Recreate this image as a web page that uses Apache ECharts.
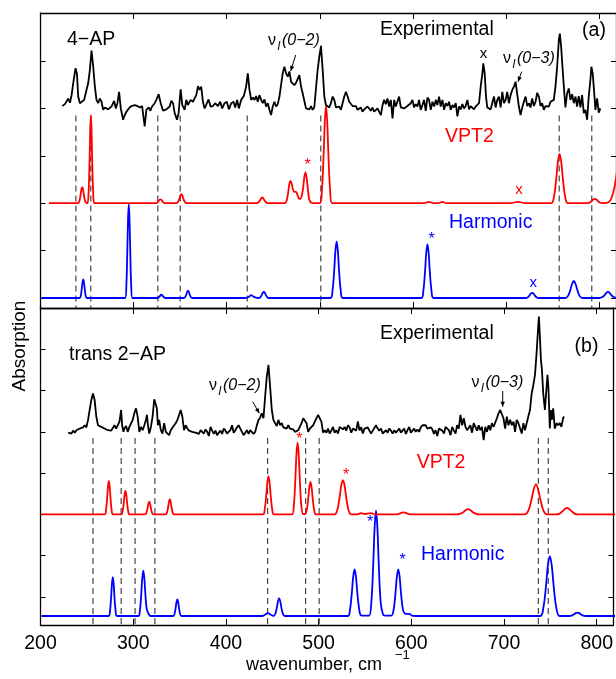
<!DOCTYPE html>
<html>
<head>
<meta charset="utf-8">
<script src="https://cdn.jsdelivr.net/npm/echarts@6/dist/echarts.min.js"></script>
<style>html,body{margin:0;padding:0;background:#fff;}#c{width:616px;height:679px;}</style>
</head>
<body>
<div id="c"></div>
<script>
// ---------- axes ----------
const xMin = 200, xMax = 818, xInterval = 100;
const yTicksA = [0, 1, 2, 3, 4, 5, 6];
const yTicksB = [0, 1, 2, 3, 4, 5, 6, 7];
const yRangeA = [-0.211, 6.013];
const yRangeB = [-0.678, 7.0];

// ---------- panel (a): 4-AP ----------
const expA = [
[223.4,4.05],[226.2,4.09],[228.0,4.05],[229.8,4.21],[231.6,4.12],[233.4,4.28],[235.1,4.53],[237.6,4.85],[239.1,4.74],[240.5,4.25],
[242.3,4.11],[244.1,4.11],[246.9,4.18],[249.4,4.39],[251.2,4.53],[253.0,4.81],[254.8,5.22],[256.6,4.88],[258.4,4.46],[260.1,4.18],
[261.9,4.11],[263.7,4.21],[265.5,4.14],[267.3,3.97],[269.1,4.02],[272.6,3.98],[276.2,4.04],[279.1,4.16],[280.8,4.00],[282.6,4.11],
[284.4,4.35],[286.2,4.00],[288.7,3.76],[290.5,3.86],[292.3,3.93],[294.8,4.00],[297.6,4.05],[301.2,4.07],[304.1,4.05],[306.6,4.02],
[309.1,4.05],[311.9,3.62],[313.7,3.97],[316.2,4.02],[318.0,3.95],[319.8,4.04],[322.6,4.11],[324.4,4.18],[326.9,4.30],[329.1,4.11],
[331.6,3.95],[335.1,3.98],[338.7,4.04],[340.5,4.16],[342.3,4.11],[344.1,3.90],[346.6,3.76],[348.3,3.90],[350.5,4.40],[352.3,4.07],
[354.8,3.97],[356.6,4.18],[358.3,4.07],[361.2,4.18],[363.7,4.14],[365.5,4.21],[367.3,4.28],[369.1,4.47],[370.8,4.39],[372.6,4.46],
[374.4,4.14],[376.2,4.00],[378.7,4.11],[380.5,4.19],[382.6,4.04],[385.1,4.05],[387.6,4.11],[390.5,4.05],[393.0,4.14],[395.1,4.00],
[397.6,4.11],[400.1,4.14],[402.3,3.98],[404.8,4.11],[407.3,4.14],[409.1,4.02],[411.2,4.18],[413.0,4.00],[415.5,4.18],[418.3,4.26],
[419.1,4.25],[420.8,4.46],[422.6,4.74],[424.4,4.39],[426.2,4.18],[428.0,4.23],[429.8,4.18],[431.6,4.26],[433.3,4.14],[435.1,4.28],
[436.9,4.18],[438.7,4.11],[440.5,4.19],[442.3,4.04],[444.1,4.11],[445.8,3.97],[447.6,3.86],[449.4,4.04],[451.2,4.14],[453.0,4.04],
[454.8,4.09],[456.6,4.25],[458.3,4.49],[460.1,4.74],[461.9,4.88],[463.7,4.74],[465.5,4.67],[467.3,4.78],[469.1,4.56],[470.8,4.53],
[472.6,4.49],[474.4,4.54],[476.2,4.53],[478.0,4.70],[479.8,4.46],[481.5,4.32],[483.3,4.35],[485.1,4.00],[486.9,4.04],[488.7,3.98],
[490.5,4.05],[492.3,3.97],[494.0,4.02],[495.8,3.98],[497.6,4.81],[499.4,5.09],[501.2,5.32],[503.0,4.81],[504.8,4.25],[506.5,4.07],
[508.3,4.07],[510.1,4.02],[511.9,4.11],[513.7,4.25],[515.5,4.18],[517.3,4.02],[519.0,3.98],[520.8,4.04],[522.6,3.97],[524.4,4.11],
[526.2,4.25],[528.0,4.35],[529.8,4.25],[531.5,4.14],[533.3,4.11],[535.1,4.05],[536.9,4.02],[538.7,4.05],[540.5,3.97],[542.3,4.00],
[544.0,4.02],[545.8,3.93],[547.6,3.98],[549.4,3.97],[551.2,4.04],[553.0,4.00],[554.8,3.95],[556.5,4.02],[558.3,3.93],[560.1,3.90],
[561.9,4.00],[563.7,4.04],[565.5,3.86],[567.3,4.07],[569.0,4.18],[570.8,4.09],[572.6,4.21],[574.4,4.04],[576.2,4.18],[578.0,3.79],
[579.8,4.18],[581.5,4.04],[583.3,4.02],[585.1,4.25],[586.9,4.02],[588.7,4.05],[590.5,4.00],[592.3,3.97],[594.0,4.05],[595.8,4.02],
[597.6,4.11],[599.4,4.18],[601.2,4.02],[603.0,4.09],[604.8,4.04],[606.5,4.18],[608.3,3.97],[610.1,4.07],[611.9,4.18],[613.7,3.95],
[615.5,4.23],[617.3,4.18],[619.1,3.97],[620.9,4.14],[622.7,4.04],[624.5,4.18],[626.2,4.07],[628.0,4.25],[629.8,4.04],[631.6,4.18],
[633.4,3.97],[635.2,4.11],[637.0,4.05],[638.7,4.14],[640.5,3.97],[642.3,4.07],[644.1,4.02],[645.9,4.11],[647.7,3.83],[649.5,4.04],
[651.2,3.98],[653.0,4.09],[654.8,4.00],[656.6,4.05],[658.4,4.18],[660.2,3.98],[662.0,4.05],[663.7,4.02],[665.5,3.98],[667.3,4.04],
[669.1,4.02],[670.9,4.11],[672.7,4.46],[674.5,4.74],[675.5,4.95],[677.0,4.74],[678.4,4.25],[679.8,4.02],[681.6,4.05],[683.4,3.98],
[685.2,4.12],[687.0,4.25],[688.7,4.02],[690.5,4.18],[692.3,4.25],[694.1,4.02],[695.9,4.35],[697.7,4.11],[699.5,4.18],[701.2,4.35],
[703.0,4.11],[704.8,4.28],[706.6,4.39],[708.4,4.46],[710.2,4.56],[712.0,4.52],[713.7,4.04],[715.5,3.86],[717.3,4.02],[719.1,4.14],
[720.9,4.25],[722.7,4.05],[724.5,4.11],[726.2,4.02],[728.0,4.21],[729.8,4.05],[731.6,4.14],[733.4,4.33],[735.2,4.25],[737.0,4.05],
[738.7,4.11],[740.5,3.97],[742.3,4.05],[744.1,4.02],[745.9,4.04],[747.7,4.14],[749.5,4.14],[751.2,4.18],[753.0,4.46],[754.8,4.88],
[756.6,5.44],[757.7,5.58],[759.1,5.30],[760.5,4.88],[762.0,4.46],[763.7,4.02],[765.5,4.32],[767.3,4.42],[769.1,4.18],[770.9,4.30],
[772.7,4.11],[774.5,4.25],[776.2,4.04],[778.0,4.26],[779.8,4.02],[781.6,4.28],[783.4,3.90],[785.2,3.97],[787.0,3.76],[788.7,4.25],
[790.5,4.60],[791.6,4.88],[793.0,4.74],[794.1,4.46],[795.9,3.97],[797.7,4.21],[799.5,3.91],[801.2,4.00]
];
const vpt2A = [
[209,2],[240.3,2],[241.8,2.05],[243,2.17],[243.9,2.29],[244.8,2.34],[245.7,2.29],[246.6,2.17],[247.8,2.05],[249.3,2],
[250.5,2],[251.7,2.25],[252.7,2.91],[253.4,3.56],[254.1,3.86],[254.8,3.56],[255.5,2.91],[256.5,2.25],[257.7,2],
[323.4,2],[325.2,2.01],[326.6,2.04],[327.7,2.07],[328.8,2.08],[329.9,2.07],[331,2.04],[332.4,2.01],[334.2,2],
[345.9,2],[347.7,2.03],[349.1,2.09],[350.2,2.16],[351.3,2.19],[352.4,2.16],[353.5,2.09],[354.9,2.03],[356.7,2],
[432.1,2],[434.1,2.02],[435.7,2.06],[436.9,2.1],[438.1,2.12],[439.3,2.1],[440.5,2.06],[442.1,2.02],[444.1,2],
[462.4,2],[464.4,2.06],[466,2.23],[467.2,2.4],[468.4,2.47],[469.6,2.42],[471,2.3],[472.5,2.24],[474.5,2.24],[476,2.17],
[477.5,2.1],[479,2.09],[480.5,2.15],[482,2.32],[483.3,2.55],[484.5,2.65],[485.7,2.55],[487,2.32],[488.5,2.09],[490.5,2.01],[492.5,2],
[500,2],[502.2,2.28],[504,3.0],[505.3,3.72],[506.6,4.05],[507.9,3.72],[509.2,3.0],[511,2.28],[513.2,2],
[612,2],[617,2.03],[622,2],[627,2],[631.6,2.03],[636,2],[705,2],[712.7,2.03],[720,2],
[748.4,2],[751.4,2.14],[753.8,2.51],[755.6,2.87],[757.4,3.04],[759.2,2.87],[761,2.51],[763.4,2.14],[766.4,2],
[786,2],[789.2,2.01],[791.6,2.04],[793.4,2.08],[795.2,2.09],[797,2.08],[798.8,2.04],[801.2,2.01],[804,2],
[810,2.02],[813,2.1],[816.5,2.35],[820,2.8]
];
const harmA = [
[201,0],[242,0],[243.3,0.05],[244.3,0.19],[245.1,0.33],[245.9,0.39],[246.7,0.33],[247.5,0.19],[248.5,0.05],[249.8,0],
[290.9,0],[292.2,0.27],[293.2,0.97],[294,1.66],[294.8,1.98],[295.6,1.66],[296.4,0.97],[297.4,0.27],[298.7,0],
[325.3,0],[327.8,0.03],[329.8,0.07],[331.8,0.03],[334.3,0],
[353.9,0],[355.4,0.02],[356.6,0.07],[357.5,0.13],[358.4,0.15],[359.3,0.13],[360.2,0.07],[361.4,0.02],[362.9,0],
[420,0],[424,0.03],[426.3,0.06],[428.6,0.03],[431.5,0.01],[434.4,0],[436.2,0.02],[437.6,0.06],[438.7,0.11],[439.8,0.13],[440.9,0.11],[442,0.06],[443.4,0.02],[445.2,0],
[511.4,0],[513.6,0.16],[515.4,0.58],[516.7,1.0],[518,1.19],[519.3,1.0],[520.6,0.58],[522.4,0.16],[524.6,0],
[608.9,0],[611.1,0.15],[612.9,0.55],[614.2,0.95],[615.5,1.13],[616.8,0.95],[618.1,0.55],[619.9,0.15],[622.1,0],
[720.5,0],[723,0.01],[725,0.05],[726.5,0.09],[728,0.11],[729.5,0.09],[731,0.05],[733,0.01],[735.5,0],
[763.7,0],[766.7,0.05],[769.1,0.18],[770.9,0.3],[772.7,0.36],[774.5,0.3],[776.3,0.18],[778.7,0.05],[781.7,0],
[800.4,0],[803.4,0.02],[805.8,0.06],[807.6,0.11],[809.4,0.13],[811.2,0.11],[813,0.06],[815.4,0.02],[818.4,0]
];
const dashA = [238, 254, 326, 350, 422, 501, 757, 792];

// ---------- panel (b): trans 2-AP ----------
const expB = [
[229.8,3.98],[231.6,4.00],[233.4,3.96],[235.2,4.03],[237.0,3.98],[238.8,4.04],[240.5,4.00],[242.3,4.08],[244.1,4.12],[245.9,4.11],
[247.7,4.16],[249.5,4.11],[251.3,4.29],[253.0,4.53],[254.8,4.77],[256.6,4.93],[258.4,4.77],[260.2,4.37],[262.0,4.16],[263.8,4.14],
[265.5,4.12],[267.3,4.11],[269.1,4.08],[270.9,4.08],[272.7,4.04],[274.5,4.08],[276.3,4.03],[278.0,4.00],[279.8,4.16],[281.6,4.08],
[283.4,4.04],[285.2,4.25],[287.0,4.53],[288.0,4.16],[289.5,4.00],[290.5,4.08],[292.3,4.14],[294.1,4.00],[295.9,4.12],[297.7,4.16],
[299.5,4.29],[301.2,4.45],[303.0,4.57],[304.8,4.37],[306.6,4.00],[308.4,4.12],[310.2,4.04],[312.0,4.16],[313.7,4.29],[314.8,4.41],
[315.9,4.16],[317.3,3.96],[319.1,4.12],[320.9,4.37],[322.7,4.79],[324.5,4.65],[325.5,4.57],[326.6,4.16],[328.0,4.29],[329.8,4.04],
[331.6,3.96],[333.4,4.21],[335.2,4.00],[337.0,4.04],[338.7,3.92],[340.5,4.04],[342.3,4.00],[344.1,4.16],[345.9,4.21],[347.7,4.29],
[349.5,4.41],[351.2,4.53],[353.0,4.37],[354.8,4.04],[356.6,4.16],[358.4,4.08],[360.2,4.03],[362.0,4.04],[363.7,4.00],[367.3,3.98],
[370.9,3.95],[372.7,4.04],[374.5,4.03],[376.2,3.96],[378.0,4.06],[379.8,4.00],[381.6,3.90],[383.4,4.12],[385.2,4.03],[387.0,3.95],
[388.7,4.03],[390.5,3.92],[392.3,3.98],[394.1,4.03],[395.9,3.95],[397.7,4.08],[399.5,4.03],[401.2,3.96],[403.0,3.98],[404.8,4.04],
[406.6,4.16],[408.4,3.98],[410.2,4.04],[412.0,4.11],[413.7,4.16],[415.5,4.08],[417.3,4.04],[419.1,3.92],[420.9,3.98],[422.7,4.04],
[424.5,3.95],[426.2,4.04],[428.0,4.03],[429.8,3.95],[431.6,4.00],[433.4,4.16],[435.2,4.29],[437.0,4.35],[438.7,4.45],[440.5,4.33],
[442.3,4.85],[444.1,5.34],[445.9,5.62],[447.7,5.09],[449.5,4.53],[451.2,4.29],[453.0,4.30],[454.8,4.14],[456.6,4.29],[458.4,4.16],
[460.2,4.21],[462.0,4.11],[463.7,4.14],[465.5,4.08],[467.3,4.16],[469.1,4.08],[470.9,4.04],[472.7,4.06],[474.5,4.00],[476.2,3.98],
[478.0,4.04],[479.8,4.08],[481.6,4.21],[483.4,4.33],[485.2,4.37],[487.0,4.21],[488.7,4.00],[490.5,4.08],[492.3,4.04],[494.1,4.16],
[495.9,4.25],[497.7,4.33],[499.5,4.41],[501.2,4.37],[503.0,4.25],[504.8,3.98],[506.6,4.04],[508.4,3.98],[510.2,4.08],[511.9,3.96],
[513.7,4.03],[515.5,4.12],[517.3,3.98],[519.1,4.04],[520.9,3.96],[522.7,4.12],[524.4,4.16],[526.2,4.06],[528.0,4.12],[529.8,4.03],
[531.6,4.16],[533.4,4.11],[535.2,3.98],[537.0,4.08],[538.7,4.12],[540.5,4.03],[542.3,4.25],[544.1,4.04],[545.9,4.11],[547.7,3.96],
[549.5,4.08],[551.2,4.04],[553.0,4.11],[554.8,4.03],[556.6,3.96],[558.4,4.03],[560.2,4.04],[561.9,4.16],[563.7,4.08],[565.5,4.03],
[567.3,4.08],[569.1,3.96],[570.9,4.00],[572.7,4.04],[574.4,3.98],[576.2,4.08],[578.0,4.03],[579.8,3.96],[581.6,4.04],[583.4,3.98],
[585.2,3.95],[587.0,4.08],[588.7,3.98],[590.5,4.03],[592.3,4.08],[594.1,3.95],[595.9,4.04],[597.7,4.12],[599.5,3.98],[601.2,4.03],
[603.0,4.08],[604.8,4.00],[606.6,4.06],[608.4,4.00],[610.2,4.11],[612.0,4.16],[613.7,4.12],[615.5,4.16],[617.3,4.08],[619.1,4.04],
[620.9,4.11],[622.7,4.06],[624.4,3.95],[626.2,4.04],[628.0,3.90],[629.8,4.08],[631.6,4.12],[633.4,4.03],[635.2,3.96],[636.9,4.12],
[638.7,4.08],[640.5,4.04],[642.3,3.92],[644.1,4.12],[645.9,4.03],[647.7,3.96],[649.4,4.16],[651.2,4.08],[653.0,4.41],[654.8,4.16],
[656.6,4.33],[658.4,4.12],[660.2,4.04],[661.9,4.08],[663.7,4.16],[665.5,3.98],[667.3,4.21],[669.1,4.12],[670.9,4.03],[672.7,4.16],
[674.4,4.04],[676.2,4.12],[678.0,3.80],[679.8,4.12],[681.6,4.00],[683.4,4.16],[685.2,4.04],[686.9,4.21],[688.7,4.12],[690.5,4.08],
[692.3,4.33],[694.1,4.45],[695.9,4.53],[697.7,4.49],[699.4,4.33],[701.2,4.08],[703.0,4.37],[704.8,4.16],[706.6,4.29],[708.4,4.16],
[710.2,4.25],[711.9,4.00],[713.7,4.29],[715.5,4.21],[717.3,4.25],[719.1,3.96],[720.9,4.21],[722.6,4.04],[724.4,4.21],[726.2,4.37],
[728.0,4.53],[729.8,4.93],[731.6,5.13],[733.4,5.38],[735.1,5.90],[736.6,6.46],[737.6,6.79],[738.7,6.30],[739.8,5.74],[740.9,5.50],
[742.3,4.93],[744.1,4.53],[745.9,5.09],[746.9,5.38],[748.0,5.01],[749.4,4.08],[750.5,4.53],[751.6,4.29],[753.0,4.57],[754.8,4.08],
[756.6,4.21],[758.4,4.16],[760.2,4.21],[761.9,4.12],[763.7,4.33],[764.8,4.37]
];
const vpt2B = [
[201,2],[269.2,2],[270.7,2.11],[271.9,2.4],[272.8,2.68],[273.7,2.81],[274.6,2.68],[275.5,2.4],[276.7,2.11],[278.2,2],
[287.1,2],[288.6,2.08],[289.8,2.28],[290.7,2.48],[291.6,2.57],[292.5,2.48],[293.4,2.28],[294.6,2.08],[296.1,2],
[312.8,2],[314.3,2.04],[315.5,2.15],[316.4,2.26],[317.3,2.31],[318.2,2.26],[319.1,2.15],[320.3,2.04],[321.8,2],
[335,2],[336.5,2.05],[337.7,2.18],[338.6,2.31],[339.5,2.37],[340.4,2.31],[341.3,2.18],[342.5,2.05],[344,2],
[439.9,2],[441.9,2.13],[443.5,2.46],[444.7,2.78],[445.9,2.93],[447.1,2.78],[448.3,2.46],[449.9,2.13],[451.9,2],
[471.3,2],[473.3,2.23],[474.9,2.85],[476.1,3.46],[477.3,3.74],[478.5,3.46],[479.7,2.85],[481.3,2.23],[483.3,2.01],
[485.2,2.01],[487.2,2.11],[488.8,2.39],[490,2.66],[491.2,2.79],[492.4,2.66],[493.6,2.39],[495.2,2.11],[497.2,2],
[517.2,2],[520.2,2.11],[522.6,2.41],[524.4,2.7],[526.2,2.83],[528,2.7],[529.8,2.41],[532.2,2.11],[535.2,2],
[541,2],[545.9,2.03],[550,2.01],[552,2.02],[556.6,2.03],[561,2],[584,2],[591.6,2.05],[599,2],
[649,2],[653,2.02],[656.4,2.06],[658.8,2.11],[661.2,2.13],[663.6,2.11],[666,2.06],[669.4,2.02],[673,2],
[722.4,2],[726.4,2.1],[729.6,2.36],[732,2.61],[734.4,2.73],[736.8,2.61],[739.2,2.36],[742.4,2.1],[746.4,2],
[756,2],[760,2.02],[763.2,2.08],[765.6,2.13],[768,2.16],[770.4,2.13],[772.8,2.08],[776,2.02],[780,2],[820,2]
];
const harmB = [
[201,-0.46],[273.5,-0.46],[275,-0.33],[276.2,0.0],[277.1,0.33],[278,0.48],[278.9,0.33],[279.8,0.0],[281,-0.33],[282.5,-0.46],
[305.5,-0.46],[307.3,-0.31],[308.7,0.08],[309.8,0.46],[310.9,0.64],[312,0.46],[313.1,0.08],[314.5,-0.28],[316.5,-0.4],[318.5,-0.46],
[343.1,-0.46],[344.6,-0.41],[345.8,-0.26],[346.7,-0.12],[347.6,-0.06],[348.5,-0.12],[349.4,-0.26],[350.6,-0.41],[352.1,-0.46],
[439,-0.46],[442,-0.43],[445.2,-0.39],[448.4,-0.43],[450.5,-0.45],[451.4,-0.46],[453.4,-0.40],[455,-0.25],[456.2,-0.1],[457.4,-0.03],
[458.6,-0.1],[459.8,-0.25],[461.4,-0.40],[463.4,-0.46],
[531.3,-0.46],[533.8,-0.31],[535.8,0.09],[537.3,0.49],[538.8,0.67],[540.3,0.49],[541.8,0.09],[543.8,-0.3],[545.5,-0.44],[549.5,-0.45],
[554.4,-0.45],[556.9,-0.12],[558.9,0.79],[560.4,1.68],[561.9,2.09],[563.4,1.68],[564.9,0.79],[566.9,-0.12],[569.4,-0.42],[571.5,-0.45],
[578.4,-0.45],[580.9,-0.31],[582.9,0.09],[584.4,0.49],[585.9,0.67],[587.4,0.49],[588.9,0.09],[590.9,-0.3],[593,-0.4],[596,-0.41],
[598,-0.41],[600.5,-0.45],[605,-0.46],
[738.9,-0.46],[742.4,-0.26],[745.2,0.25],[747.3,0.76],[749.4,0.99],[751.5,0.76],[753.6,0.25],[756.4,-0.26],[759.9,-0.46],
[770,-0.46],[773,-0.45],[775.5,-0.42],[777.3,-0.39],[779.1,-0.38],[780.9,-0.39],[782.7,-0.42],[785.2,-0.45],[788,-0.46],[820,-0.46]
];
const dashB = [256.6, 287, 302, 323.4, 445, 486, 500.6, 737, 747.7];
const dashTop = 3.85;

const FONT = '"Liberation Sans", Arial, Helvetica, sans-serif';

const chart = echarts.init(document.getElementById('c'), null, {renderer: 'canvas'});

function xAx(grid, pos, labels) {
  return {
    type: 'value', gridIndex: grid, position: pos, min: xMin, max: xMax, interval: xInterval,
    axisLine: {show: true, onZero: false, lineStyle: {color: '#000', width: 1.3}},
    axisTick: {show: true, inside: true, length: 6, lineStyle: {color: '#000', width: 1}},
    axisLabel: {show: labels, color: '#000', fontSize: 19.5, fontFamily: FONT, margin: 9},
    splitLine: {show: false}
  };
}
function yAx(grid, pos, range, ticks) {
  return {
    type: 'value', gridIndex: grid, position: pos, min: range[0], max: range[1],
    axisLine: {show: true, onZero: false, lineStyle: {color: '#000', width: 1.3}},
    axisTick: {show: true, inside: true, length: 5, customValues: ticks, lineStyle: {color: '#000', width: 1}},
    axisLabel: {show: false, customValues: ticks},
    splitLine: {show: false}
  };
}
function traceSeries(data, xi, yi, color, smooth) {
  return {
    type: 'line', xAxisIndex: xi, yAxisIndex: yi, data: data, showSymbol: false, symbol: 'none',
    smooth: smooth ? 0.35 : false, lineStyle: {color: color, width: 1.8}, silent: true, animation: false
  };
}
function dashSeries(xs, xi, yi, top, bottom) {
  return xs.map(x => ({
    type: 'line', xAxisIndex: xi, yAxisIndex: yi, data: [[x, top], [x, bottom]], showSymbol: false, symbol: 'none',
    lineStyle: {color: '#333', width: 1.1, type: [6, 4]}, silent: true, animation: false
  }));
}

const series = [].concat(
  dashSeries(dashA, 0, 0, dashTop, yRangeA[0]),
  dashSeries(dashB, 2, 2, dashTop, yRangeB[0]),
  [
    traceSeries(harmA, 0, 0, '#0000ff', true),
    traceSeries(vpt2A, 0, 0, '#ff0000', true),
    traceSeries(expA, 0, 0, '#000000', false),
    traceSeries(harmB, 2, 2, '#0000ff', true),
    traceSeries(vpt2B, 2, 2, '#ff0000', true),
    traceSeries(expB, 2, 2, '#000000', false)
  ]
);

function txt(text, x, y, opt) {
  return {type: 'text', x: x, y: y, z: 100, style: Object.assign({
    text: text, fill: '#000', font: '19.5px ' + FONT, textAlign: 'left', textVerticalAlign: 'middle'
  }, opt || {})};
}
function arrow(x1, y1, x2, y2, head) {
  return [
    {type: 'line', z: 100, shape: {x1: x1, y1: y1, x2: x2, y2: y2}, style: {stroke: '#000', lineWidth: 1}},
    {type: 'polygon', z: 100, shape: {points: head}, style: {fill: '#000'}}
  ];
}
function nu(x, y, sub) {
  return [
    txt('ν', x, y, {font: '16px ' + FONT}),
    txt('l', x + 9.5, y + 6, {font: 'italic 12px ' + FONT}),
    txt('(' + sub + ')', x + 14, y, {font: 'italic 16px ' + FONT})
  ];
}

const graphics = [].concat(
  [
    txt('4\u2212AP', 67, 40),
    txt('Experimental', 380, 30),
    txt('(a)', 594, 31, {textAlign: 'center'}),
    txt('VPT2', 445, 137, {fill: '#ff0000'}),
    txt('Harmonic', 449, 223, {fill: '#0000ff'}),
    txt('*', 307.7, 166, {fill: '#ff0000', font: '16px ' + FONT, textAlign: 'center'}),
    txt('x', 483.5, 54, {font: '15px ' + FONT, textAlign: 'center'}),
    txt('x', 519, 190, {fill: '#ff0000', font: '15px ' + FONT, textAlign: 'center'}),
    txt('*', 431.7, 240, {fill: '#0000ff', font: '16px ' + FONT, textAlign: 'center'}),
    txt('x', 533.3, 283, {fill: '#0000ff', font: '15px ' + FONT, textAlign: 'center'}),
    txt('trans 2\u2212AP', 69, 355),
    txt('Experimental', 380, 334),
    txt('(b)', 586.5, 347, {textAlign: 'center'}),
    txt('VPT2', 416.7, 463, {fill: '#ff0000'}),
    txt('Harmonic', 421, 555, {fill: '#0000ff'}),
    txt('*', 299.3, 440, {fill: '#ff0000', font: '16px ' + FONT, textAlign: 'center'}),
    txt('*', 346, 476, {fill: '#ff0000', font: '16px ' + FONT, textAlign: 'center'}),
    txt('*', 370, 523, {fill: '#0000ff', font: '16px ' + FONT, textAlign: 'center'}),
    txt('*', 402.7, 561, {fill: '#0000ff', font: '16px ' + FONT, textAlign: 'center'}),
    txt('wavenumber, cm', 246, 665, {font: '18px ' + FONT}),
    txt('\u22121', 395, 655, {font: '13px ' + FONT}),
    {type: 'text', x: 20, y: 346, rotation: Math.PI / 2, z: 100,
      style: {text: 'Absorption', fill: '#000', font: '19px ' + FONT, textAlign: 'center', textVerticalAlign: 'middle'}}
  ],
  nu(268, 41, '0\u22122'),
  nu(503, 59, '0\u22123'),
  nu(209, 386, '0\u22122'),
  nu(471.5, 383, '0\u22123'),
  arrow(295.7, 55, 290.7, 71, [[290.7, 71], [294.3, 66.9], [290.1, 65.6]]),
  arrow(521.7, 71.7, 518, 81.7, [[518, 81.7], [521.8, 77.8], [517.7, 76.2]]),
  arrow(252.7, 401.7, 259.3, 413.3, [[259.3, 413.3], [258.7, 407.9], [254.9, 410.1]]),
  arrow(502.7, 391, 502.7, 406.7, [[502.7, 406.7], [504.9, 401.7], [500.5, 401.7]])
);

chart.setOption({
  animation: false,
  backgroundColor: '#fff',
  grid: [
    {left: 40.5, top: 13, width: 576.8, height: 295, containLabel: false},
    {left: 40.5, top: 308, width: 576.8, height: 317, containLabel: false}
  ],
  xAxis: [xAx(0, 'bottom', false), xAx(0, 'top', false), xAx(1, 'bottom', true), xAx(1, 'top', false)],
  yAxis: [yAx(0, 'left', yRangeA, yTicksA), yAx(0, 'right', yRangeA, yTicksA), yAx(1, 'left', yRangeB, yTicksB), yAx(1, 'right', yRangeB, yTicksB)],
  series: series,
  graphic: graphics
});
</script>
</body>
</html>
